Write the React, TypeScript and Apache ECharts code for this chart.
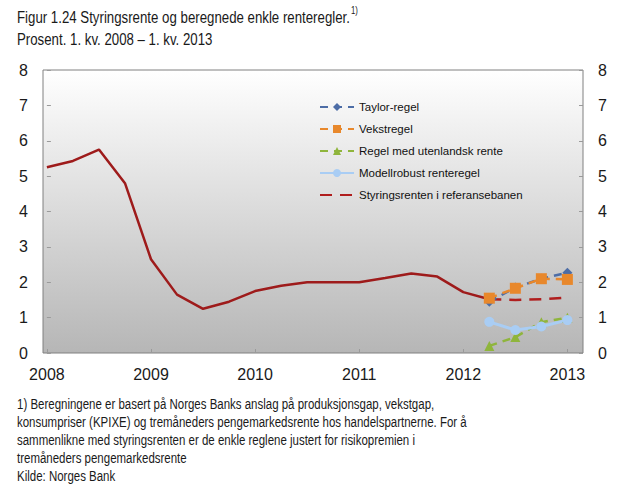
import React, { useEffect, useRef } from "react";
import * as echarts from "echarts";

// Quarters 1. kv. 2008 – 1. kv. 2013
const quarters = [
  "2008K1", "2008K2", "2008K3", "2008K4",
  "2009K1", "2009K2", "2009K3", "2009K4",
  "2010K1", "2010K2", "2010K3", "2010K4",
  "2011K1", "2011K2", "2011K3", "2011K4",
  "2012K1", "2012K2", "2012K3", "2012K4",
  "2013K1",
];
const yearTickQuarters = ["2008K1", "2009K1", "2010K1", "2011K1", "2012K1", "2013K1"];

// Styringsrenten, historical (2008K1 – 2012K2)
const styringHist = [5.25, 5.43, 5.75, 4.8, 2.65, 1.65, 1.25, 1.45, 1.75, 1.9, 2.0, 2.0, 2.0, 2.12, 2.25, 2.16, 1.72, 1.52];
// Rules and reference path, 2012K2 – 2013K1
const ruleQuarters = ["2012K2", "2012K3", "2012K4", "2013K1"];
const styringBane = [1.52, 1.5, 1.52, 1.57];
const taylor = [1.45, 1.85, 2.1, 2.27];
const vekst = [1.55, 1.83, 2.1, 2.08];
const utenlandsk = [0.2, 0.45, 0.87, 1.0];
const modellrobust = [0.88, 0.65, 0.75, 0.93];

const titleLine1 = "Figur 1.24 Styringsrente og beregnede enkle renteregler.";
const titleSup = "1)";
const titleLine2 = "Prosent. 1. kv. 2008 – 1. kv. 2013";
const footnote = [
  "1) Beregningene er basert på Norges Banks anslag på produksjonsgap, vekstgap,",
  "konsumpriser (KPIXE) og tremåneders pengemarkedsrente hos handelspartnerne. For å",
  "sammenlikne med styringsrenten er de enkle reglene justert for risikopremien i",
  "tremåneders pengemarkedsrente",
  "Kilde: Norges Bank",
];

const SANS = "'Liberation Sans', Arial, sans-serif";

const qi = (q: string) => quarters.indexOf(q);
const toPairs = (qs: string[], vals: number[]) => vals.map((v, i) => [qi(qs[i]), v]);

export default function App() {
  const ref = useRef<HTMLDivElement>(null);
  useEffect(() => {
    if (!ref.current) return;
    const chart = echarts.init(ref.current, undefined, { renderer: "svg" });
    const tickVals = yearTickQuarters.map(qi);
    const yAxisBase = {
      type: "value" as const,
      min: 0,
      max: 8,
      interval: 1,
      splitLine: { show: false },
      axisLine: { show: false },
      axisTick: { show: true, inside: true, length: 4, lineStyle: { color: "#9a9a9a" } },
      axisLabel: { fontSize: 16, color: "#1a1a1a", fontFamily: SANS, margin: 15 },
    };
    chart.setOption({
      animation: false,
      backgroundColor: "#ffffff",
      textStyle: { fontFamily: SANS },
      grid: {
        left: 43,
        right: 54,
        top: 70,
        bottom: 145,
        show: true,
        borderColor: "#808080",
        borderWidth: 1,
        backgroundColor: {
          type: "linear",
          x: 0, y: 0, x2: 0, y2: 1,
          colorStops: [
            { offset: 0, color: "#ffffff" },
            { offset: 1, color: "#b6b6b6" },
          ],
        },
      },
      xAxis: {
        type: "value",
        min: -0.15,
        max: 20.6,
        splitLine: { show: false },
        axisLine: { show: false },
        axisTick: { show: true, inside: true, length: 4, customValues: tickVals, lineStyle: { color: "#9a9a9a" } },
        axisLabel: {
          customValues: tickVals,
          fontSize: 16,
          color: "#1a1a1a",
          fontFamily: SANS,
          margin: 13,
          formatter: (v: number) => quarters[Math.round(v)].slice(0, 4),
        },
      },
      yAxis: [
        { ...yAxisBase, position: "left" },
        { ...yAxisBase, position: "right" },
      ],
      legend: {
        orient: "vertical",
        left: 314,
        top: 95,
        itemWidth: 34,
        itemHeight: 10,
        itemGap: 8,
        textStyle: { fontSize: 11.5, lineHeight: 14, fontFamily: SANS, color: "#111" },
        data: [
          "Taylor-regel",
          "Vekstregel",
          "Regel med utenlandsk rente",
          "Modellrobust renteregel",
          { name: "Styringsrenten i referansebanen", itemStyle: { color: "rgba(0,0,0,0)", opacity: 0 } },
        ],
      },
      graphic: [
        {
          type: "text",
          x: 17,
          y: 6,
          scaleX: 0.78,
          style: {
            text: `{m|${titleLine1}}{s|${titleSup}}\n{m|${titleLine2}}`,
            align: "left",
            verticalAlign: "top",
            rich: {
              m: { fontSize: 17, fontFamily: SANS, fill: "#1a1a1a", lineHeight: 22 },
              s: { fontSize: 10, fontFamily: SANS, fill: "#1a1a1a", verticalAlign: "top", lineHeight: 22, padding: [0, 0, 6, 1] },
            },
          },
        },
        {
          type: "text",
          x: 17,
          y: 395,
          scaleX: 0.82,
          style: {
            text: footnote.join("\n"),
            align: "left",
            verticalAlign: "top",
            fontSize: 14,
            fontFamily: SANS,
            fill: "#1a1a1a",
            lineHeight: 18,
          },
        },
      ],
      series: [
        {
          name: "Styringsrenten",
          type: "line",
          data: styringHist.map((v, i) => [i, v]),
          symbol: "none",
          lineStyle: { color: "#9e1b1b", width: 2.5 },
          itemStyle: { color: "#9e1b1b" },
          z: 3,
        },
        {
          name: "Styringsrenten i referansebanen",
          type: "line",
          data: toPairs(ruleQuarters, styringBane),
          symbol: "none",
          lineStyle: { color: "#b01e1e", width: 2.5, type: [12, 8] },
          itemStyle: { color: "#b01e1e" },
          z: 3,
        },
        {
          name: "Taylor-regel",
          type: "line",
          data: toPairs(ruleQuarters, taylor),
          symbol: "diamond",
          symbolSize: 10,
          lineStyle: { color: "#4d6da6", width: 2.5, type: [8, 6] },
          itemStyle: { color: "#4d6da6" },
          z: 4,
        },
        {
          name: "Vekstregel",
          type: "line",
          data: toPairs(ruleQuarters, vekst),
          symbol: "rect",
          symbolSize: 11,
          lineStyle: { color: "#e8882c", width: 2.5, type: [8, 6] },
          itemStyle: { color: "#e8882c" },
          z: 5,
        },
        {
          name: "Regel med utenlandsk rente",
          type: "line",
          data: toPairs(ruleQuarters, utenlandsk),
          symbol: "triangle",
          symbolSize: 10,
          lineStyle: { color: "#8fb53c", width: 2.5, type: [8, 6] },
          itemStyle: { color: "#8fb53c" },
          z: 4,
        },
        {
          name: "Modellrobust renteregel",
          type: "line",
          data: toPairs(ruleQuarters, modellrobust),
          symbol: "circle",
          symbolSize: 10,
          lineStyle: { color: "#a9cdf4", width: 3 },
          itemStyle: { color: "#a9cdf4" },
          z: 4,
        },
      ],
    });
    return () => chart.dispose();
  }, []);
  return (
    <div
      ref={ref}
      style={{ position: "fixed", left: 0, top: 0, width: 637, height: 498 }}
    />
  );
}
